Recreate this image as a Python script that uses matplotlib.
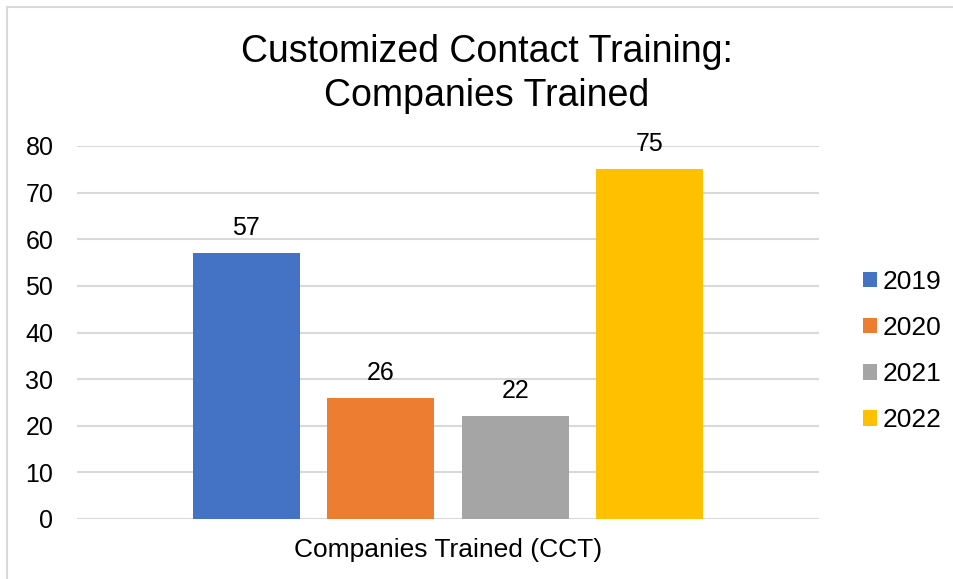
import matplotlib.pyplot as plt
from matplotlib.lines import Line2D

years = ["2019", "2020", "2021", "2022"]
values = [57, 26, 22, 75]
colors = ["#4472C4", "#ED7D31", "#A5A5A5", "#FFC000"]
category = "Companies Trained (CCT)"
yticks = [0, 10, 20, 30, 40, 50, 60, 70, 80]

plt.rcParams['font.family'] = ['Liberation Sans', 'DejaVu Sans']

W, H = 954, 579
fig = plt.figure(figsize=(W / 100, H / 100), dpi=100)
ax = fig.add_axes([77 / W, 1 - 519 / H, (819 - 77) / W, (519 - 146) / H])

bar_w = 107 / 742
step = 134.5 / 742
for i, (yr, v, c) in enumerate(zip(years, values, colors)):
    x = (i - 1.5) * step
    ax.bar(x, v, width=bar_w, color=c, label=yr, zorder=3)
    ax.text(x, v + 2.8, str(v), ha="center", va="bottom", fontsize=18)

ax.set_xlim(-0.5, 0.5)
ax.set_ylim(0, 80)
ax.set_yticks(yticks)
ax.set_xticks([0])
ax.set_xticklabels([category])
ax.tick_params(axis="both", length=0, labelsize=18, colors="black")
ax.tick_params(axis="x", labelsize=19, pad=14)
ax.tick_params(axis="y", pad=17)
ax.grid(axis="y", color="#D9D9D9", linewidth=1.5, zorder=0)
for s in ax.spines.values():
    s.set_visible(False)

fig.text(0.51, 1 - 74 / H, "Customized Contact Training:\nCompanies Trained",
         ha="center", va="center", fontsize=27, linespacing=1.28)

leg = ax.legend(loc="center left", bbox_to_anchor=(839 / W, 1 - 351 / H),
                bbox_transform=fig.transFigure, frameon=False, fontsize=19,
                handlelength=0.53, handleheight=0.53, handletextpad=0.23,
                labelspacing=0.84)

# light grey frame around the chart (top and left edges visible)
fig.add_artist(Line2D([7 / W, 7 / W], [0, 1 - 7 / H], color="#D9D9D9", linewidth=1.5,
                      transform=fig.transFigure))
fig.add_artist(Line2D([7 / W, 1], [1 - 7 / H, 1 - 7 / H], color="#D9D9D9", linewidth=1.5,
                      transform=fig.transFigure))

fig.savefig("out.png", dpi=100)
